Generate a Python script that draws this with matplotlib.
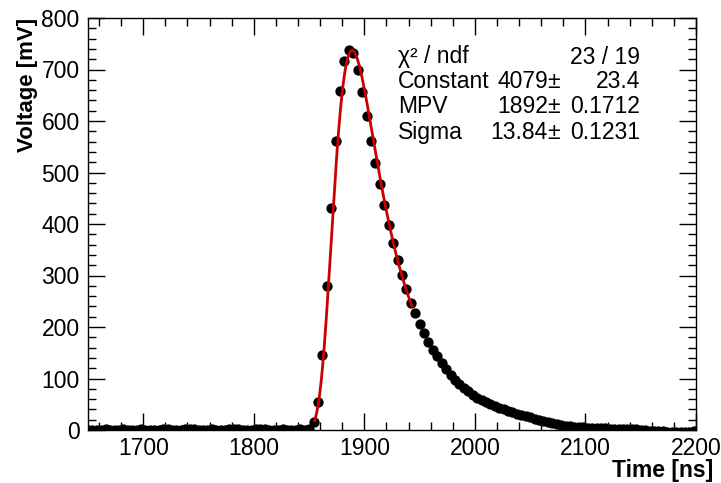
import numpy as np
import matplotlib
matplotlib.use('Agg')
import matplotlib.pyplot as plt
from matplotlib.ticker import MultipleLocator

plt.rcParams['font.family'] = ['Liberation Sans', 'DejaVu Sans']

# Sampled waveform, 4 ns per sample starting at 1650 ns
t_start = 1650
t_step = 4
voltage_mv = [
    # baseline 1650 .. 1850
    0.5, 0.8, 0.3, 0.6, 1.0, 0.7, 0.4, 0.9, 1.2, 0.6,
    0.5, 0.8, 1.1, 0.7, 0.4, 0.6, 0.9, 1.3, 1.0, 0.6,
    0.5, 0.8, 1.2, 1.4, 1.0, 0.7, 0.6, 0.9, 1.1, 0.8,
    0.5, 0.7, 1.0, 1.3, 1.1, 0.8, 0.6, 0.9, 1.2, 1.5,
    1.1, 0.8, 0.6, 0.7, 1.0, 0.8, 0.6, 0.9, 1.1, 0.8,
    1.5,
    # pulse 1854 .. 1966
    16, 54, 146, 280, 431, 561, 658, 717, 737, 732,
    699, 656, 610, 561, 518, 478, 437, 398, 363, 330,
    301, 274, 247, 227, 206, 188, 171, 155, 144,
    # tail 1970 .. 2198
    130, 118, 107, 98, 90, 82, 75, 68, 63, 58,
    54, 50, 47, 43, 40, 37, 35, 32, 29, 27,
    25, 22, 20, 18, 15, 13, 11, 9, 8, 7,
    6, 5, 5, 4, 4, 3.5, 3, 3, 2.5, 2.5,
    2, 2, 1.5, 1, 1, 0.5, -0.5, -1, -1.5, -2,
    -2.5, -3, -3, -3.5, -3, -3.5, -3, -2.5,
]
time_ns = t_start + t_step * np.arange(len(voltage_mv))

# Landau fit results (as shown in the stats box)
fit_constant = 4079
fit_mpv = 1892
fit_sigma = 13.84
fit_range = (1855, 1943)
stat_labels = ['\u03c7\u00b2 / ndf', 'Constant', 'MPV', 'Sigma']
stat_values = ['4079', '1892', '13.84']
stat_errors = ['23.4', '0.1712', '0.1231']
chi2_text = '23 / 19'


def landau(lam):
    # Landau density via its integral representation
    t = np.linspace(1e-9, 50, 50001)
    res = []
    for l in lam:
        f = np.exp(-t * np.log(t) - l * t) * np.sin(np.pi * t)
        res.append(np.trapezoid(f, t) / np.pi)
    return np.array(res)


W, H = 721, 483
fig = plt.figure(figsize=(W / 100, H / 100), dpi=100)
ax = fig.add_axes([88 / W, 1 - 430 / H, (696 - 88) / W, (430 - 18) / H])

ax.plot(time_ns, voltage_mv, 'o', color='black', markersize=6.4, zorder=2)

xf = np.linspace(fit_range[0], fit_range[1], 200)
yf = fit_constant * landau((xf - fit_mpv) / fit_sigma)
ax.plot(xf, yf, color='#cc0000', lw=2, zorder=3)

ax.set_xlim(1650, 2200)
ax.set_ylim(0, 800)
ax.xaxis.set_major_locator(MultipleLocator(100))
ax.xaxis.set_minor_locator(MultipleLocator(20))
ax.yaxis.set_major_locator(MultipleLocator(100))
ax.yaxis.set_minor_locator(MultipleLocator(20))
ax.tick_params(which='both', direction='in', top=True, right=True, width=1,
               labelsize=16.5)
ax.tick_params(which='major', length=12)
ax.tick_params(which='minor', length=6)
ax.tick_params(axis='x', pad=5)
ax.tick_params(axis='y', pad=6)
for s in ax.spines.values():
    s.set_linewidth(1)

fig.text(713 / W, 1 - 471 / H, 'Time [ns]', ha='right', va='center',
         fontsize=16.5, fontweight='bold')
fig.text(28 / W, 1 - 18 / H, 'Voltage [mV]', ha='center', va='top',
         rotation=90, fontsize=16, fontweight='bold')

# stats box text
rows_y = [57, 82, 107, 132]
for lab, y in zip(stat_labels, rows_y):
    fig.text(398 / W, 1 - y / H, lab, ha='left', va='center', fontsize=16.5)
fig.text(640 / W, 1 - rows_y[0] / H, chi2_text, ha='right', va='center', fontsize=16.5)
for val, err, y in zip(stat_values, stat_errors, rows_y[1:]):
    fig.text(548 / W, 1 - y / H, val, ha='right', va='center', fontsize=16.5)
    fig.text(554 / W, 1 - y / H, '\u00b1', ha='center', va='center', fontsize=16.5)
    fig.text(640 / W, 1 - y / H, err, ha='right', va='center', fontsize=16.5)

fig.savefig('out.png', dpi=100)
